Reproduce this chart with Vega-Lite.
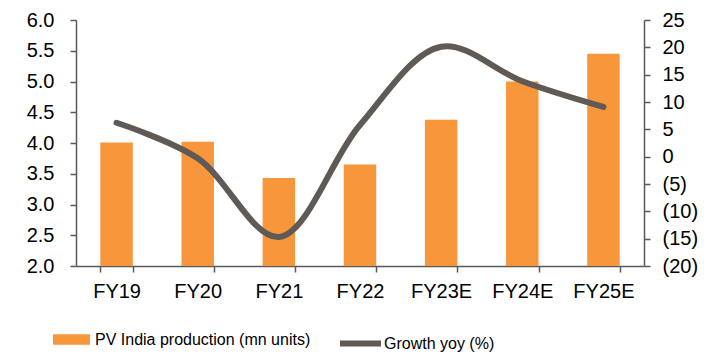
{
  "$schema": "https://vega.github.io/schema/vega-lite/v6.json",
  "width": 568,
  "height": 246,
  "autosize": {"type": "none"},
  "padding": {"left": 76, "top": 20, "right": 70, "bottom": 90},
  "background": "white",
  "config": {
    "view": {"stroke": null},
    "font": "Liberation Sans",
    "axis": {"grid": false, "domainColor": "#595959", "tickColor": "#595959", "domainWidth": 1.5, "tickWidth": 1.5, "tickSize": 6, "labelColor": "#000000", "labelFont": "Liberation Sans", "labelFontSize": 20, "titleFontSize": 0}
  },
  "data": {
    "values": [
      {"year": "FY19", "production": 4.01, "growth": 6.2},
      {"year": "FY20", "production": 4.02, "growth": -0.3},
      {"year": "FY21", "production": 3.43, "growth": -14.7},
      {"year": "FY22", "production": 3.65, "growth": 5.8},
      {"year": "FY23E", "production": 4.38, "growth": 20.1},
      {"year": "FY24E", "production": 5.0, "growth": 13.8},
      {"year": "FY25E", "production": 5.45, "growth": 9.1}
    ]
  },
  "encoding": {
    "x": {
      "field": "year", "type": "nominal", "sort": null, "title": null,
      "scale": {"paddingInner": 0.6, "paddingOuter": 0.3},
      "axis": {"labelAngle": 0, "tickBand": "extent", "labelPadding": 9}
    }
  },
  "layer": [
    {
      "mark": {"type": "bar", "color": "#F7963A", "clip": true},
      "encoding": {
        "y": {
          "field": "production", "type": "quantitative", "title": null,
          "scale": {"domain": [2, 6], "zero": false, "nice": false},
          "axis": {"values": [2, 2.5, 3, 3.5, 4, 4.5, 5, 5.5, 6], "format": ".1f", "labelPadding": 16}
        },
        "fill": {
          "datum": "PV India production (mn units)", "type": "nominal",
          "scale": {"range": ["#F7963A"]},
          "legend": {
            "orient": "none", "legendX": -24, "legendY": 300, "title": null,
            "symbolType": "M-1,-0.284H1V0.284H-1Z", "symbolSize": 1369,
            "labelFont": "Liberation Sans", "labelFontSize": 16, "labelColor": "#000000", "labelOffset": 4, "labelLimit": 0
          }
        }
      }
    },
    {
      "mark": {"type": "line", "color": "#5F5A56", "strokeWidth": 6, "interpolate": "catmull-rom", "strokeCap": "round"},
      "encoding": {
        "y": {
          "field": "growth", "type": "quantitative", "title": null,
          "scale": {"domain": [-20, 25], "nice": false, "zero": false},
          "axis": {"orient": "right", "values": [-20, -15, -10, -5, 0, 5, 10, 15, 20, 25], "labelPadding": 12, "labelExpr": "datum.value < 0 ? '(' + abs(datum.value) + ')' : datum.label"}
        },
        "stroke": {
          "datum": "Growth yoy (%)", "type": "nominal",
          "scale": {"range": ["#5F5A56"]},
          "legend": {
            "orient": "none", "legendX": 261, "legendY": 300, "title": null,
            "symbolType": "stroke", "symbolSize": 1681, "symbolStrokeWidth": 6,
            "labelFont": "Liberation Sans", "labelFontSize": 16, "labelColor": "#000000", "labelOffset": 0, "labelLimit": 0
          }
        }
      }
    }
  ],
  "resolve": {"scale": {"y": "independent", "fill": "independent", "stroke": "independent"}}
}
